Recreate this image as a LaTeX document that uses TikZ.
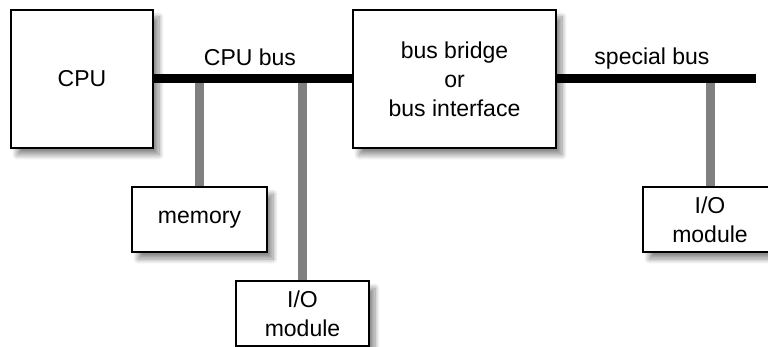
\documentclass[tikz,border=0pt]{standalone}
\usepackage{fontspec}
\setmainfont{Liberation Sans}
\usetikzlibrary{shadows.blur}

\tikzset{
  unit/.style={draw, line width=1.5pt, fill=white, align=center,
    blur shadow={shadow xshift=6pt, shadow yshift=-7pt, shadow blur radius=5pt,
      shadow blur steps=10, shadow opacity=45},
    font=\fontsize{23}{29}\selectfont, inner sep=0pt},
  bus/.style={line width=9pt, black},
  tap/.style={line width=9pt, gray},
  buslabel/.style={font=\fontsize{23}{26}\selectfont}
}

\begin{document}
\begin{tikzpicture}[x=1pt,y=-1pt]
\useasboundingbox (0,0) rectangle (768,347);

% taps first, so the boxes cover their ends
\node[unit, minimum width=142pt, minimum height=138pt] (cpu) at (82,79) {CPU};
\node[unit, minimum width=203pt, minimum height=138pt] (bridge) at (454.5,79) {bus bridge\\or\\bus interface};
\coordinate (busend) at (756,79);

\draw[tap] (199.5,79) -- (199.5,187);
\draw[tap] (302.5,79) -- (302.5,281);
\draw[tap] (710,79) -- (710,187);

\node[unit, minimum width=135pt, minimum height=65pt] (memory) at (199.5,219.5) {memory};
\node[unit, minimum width=133pt, minimum height=65pt] (io1) at (302.5,313.5) {I/O\\module};
\node[unit, minimum width=134pt, minimum height=65pt] (io2) at (710,219.5) {I/O\\module};

\draw[bus] (cpu.east) -- (bridge.west);
\draw[bus] (bridge.east) -- (busend);

\node[buslabel] (cpubuslabel) at (250,57) {CPU bus};
\node[buslabel] (specbuslabel) at (652,59) {special bus};
\end{tikzpicture}
\end{document}
